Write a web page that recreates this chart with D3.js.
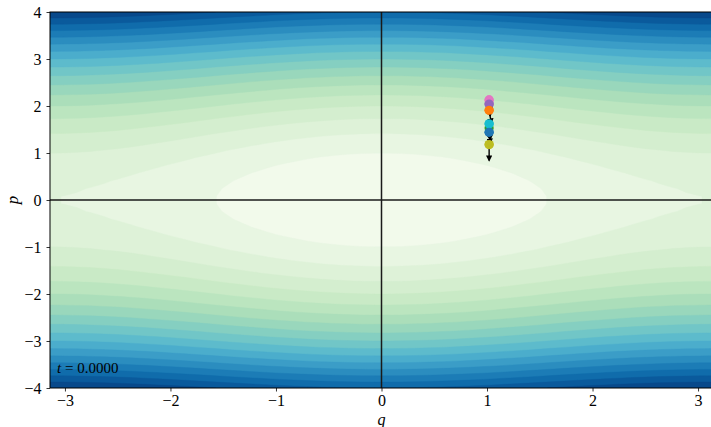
<!DOCTYPE html>
<html><head><meta charset="utf-8">
<script src="https://cdn.jsdelivr.net/npm/d3@7"></script>
<style>
html,body{margin:0;padding:0;background:#fff;}
svg{display:block;}
</style></head>
<body>
<svg id="chart" width="711" height="427"></svg>
<script>
// ---- data ----
const qDomain = [-Math.PI, Math.PI];
const pDomain = [-4, 4];
const xTicks = [-3, -2, -1, 0, 1, 2, 3];
const yTicks = [-4, -3, -2, -1, 0, 1, 2, 3, 4];
const potentialStrength = 0.5;              // H = p^2/2 + k(1 - cos q)
const levelStep = 0.5;
const levelCount = 19;                      // levels 0 .. 9
const pointColors = ["#2ca02c", "#e377c2", "#9467bd", "#ff7f0e", "#1f77b4", "#17becf", "#bcbd22"];
const pointQ =      [1.02, 1.02, 1.02, 1.02, 1.02, 1.02, 1.02];
const pointP =      [1.53, 2.13, 2.04, 1.91, 1.44, 1.62, 1.18];
const arrowDQ =     [0.01, 0.01, 0.01, 0.02, 0.01, 0.01, 0.0];
const arrowDP =     [-0.25, -0.25, -0.25, -0.28, -0.24, -0.25, -0.34];
const timeLabel = "0.0000";

const SERIF = '"Liberation Serif","Times New Roman","DejaVu Serif",serif';

// ---- layout ----
const svg = d3.select("#chart");
const x0 = 50, x1 = 713, y0 = 12, y1 = 388;
const x = d3.scaleLinear().domain(qDomain).range([x0, x1]);
const y = d3.scaleLinear().domain(pDomain).range([y1, y0]);

const defs = svg.append("defs");
defs.append("clipPath").attr("id", "clip")
  .append("rect").attr("x", x0).attr("y", y0).attr("width", x1 - x0).attr("height", y1 - y0);

// ---- contour field ----
const nx = 50, ny = 50;
const H = (q, p) => p * p / 2 + potentialStrength * (1 - Math.cos(q));
const values = new Array(nx * ny);
for (let j = 0; j < ny; j++) {
  const p = pDomain[0] + (pDomain[1] - pDomain[0]) * j / (ny - 1);
  for (let i = 0; i < nx; i++) {
    const q = qDomain[0] + (qDomain[1] - qDomain[0]) * i / (nx - 1);
    values[j * nx + i] = H(q, p);
  }
}
const levels = d3.range(levelCount).map(i => i * levelStep);
const vmin = levels[0], vmax = levels[levels.length - 1];
const bandColor = i => {
  const mid = (levels[i] + levels[i + 1]) / 2;
  return d3.interpolateGnBu((mid - vmin) / (vmax - vmin));
};
const contours = d3.contours().size([nx, ny]).thresholds(levels.slice(0, -1))(values);
const gx = d3.scaleLinear().domain([0, nx - 1]).range([x0, x1]);
const gy = d3.scaleLinear().domain([0, ny - 1]).range([y1, y0]);
const proj = d3.geoTransform({
  point: function(px, py) {
    this.stream.point(gx(Math.max(0, Math.min(nx - 1, px - 0.5))), gy(Math.max(0, Math.min(ny - 1, py - 0.5))));
  }
});
const path = d3.geoPath(proj);
const field = svg.append("g").attr("clip-path", "url(#clip)");
contours.forEach((c, i) => {
  field.append("path").attr("d", path(c)).attr("fill", bandColor(i)).attr("stroke", bandColor(i)).attr("stroke-width", 0.4);
});

// ---- axis lines through origin ----
const cross = svg.append("g").attr("clip-path", "url(#clip)");
cross.append("line").attr("x1", x(0)).attr("x2", x(0)).attr("y1", y0).attr("y2", y1)
  .attr("stroke", "#1a1a1a").attr("stroke-width", 1.5);
cross.append("line").attr("x1", x0).attr("x2", x1).attr("y1", y(0)).attr("y2", y(0))
  .attr("stroke", "#1a1a1a").attr("stroke-width", 1.5);

// ---- points and arrows ----
const marks = svg.append("g").attr("clip-path", "url(#clip)");
defs.append("marker").attr("id", "head").attr("viewBox", "0 0 10 10").attr("refX", 8).attr("refY", 5)
  .attr("markerWidth", 4.5).attr("markerHeight", 4.5).attr("orient", "auto")
  .append("path").attr("d", "M0,0 L10,5 L0,10 Z").attr("fill", "#000");
pointColors.forEach((col, i) => {
  marks.append("circle").attr("cx", x(pointQ[i])).attr("cy", y(pointP[i])).attr("r", 4.6).attr("fill", col);
});
pointColors.forEach((col, i) => {
  marks.append("line")
    .attr("x1", x(pointQ[i])).attr("y1", y(pointP[i]))
    .attr("x2", x(pointQ[i] + arrowDQ[i])).attr("y2", y(pointP[i] + arrowDP[i]))
    .attr("stroke", "#000").attr("stroke-width", 1.4).attr("marker-end", "url(#head)");
});
[1, 2, 3, 5, 4, 6].forEach(i => {
  marks.append("circle").attr("cx", x(pointQ[i])).attr("cy", y(pointP[i])).attr("r", 4.6).attr("fill", pointColors[i]);
});

// ---- frame ----
svg.append("rect").attr("x", x0).attr("y", y0).attr("width", x1 - x0).attr("height", y1 - y0)
  .attr("fill", "none").attr("stroke", "#000").attr("stroke-width", 1);

// ---- axes ----
const fmt = d => (d < 0 ? "\u2212" + Math.abs(d) : String(d));
const xAxis = svg.append("g").attr("transform", `translate(0,${y1})`)
  .call(d3.axisBottom(x).tickValues(xTicks).tickFormat(fmt).tickSize(3.5).tickPadding(3));
const yAxis = svg.append("g").attr("transform", `translate(${x0},0)`)
  .call(d3.axisLeft(y).tickValues(yTicks).tickFormat(fmt).tickSize(3.5).tickPadding(5));
[xAxis, yAxis].forEach(a => {
  a.select(".domain").remove();
  a.selectAll("line").attr("stroke", "#000").attr("stroke-width", 0.8);
  a.selectAll("text").style("font-size", "16px").style("font-family", SERIF).attr("fill", "#000");
});

svg.append("text").attr("x", x(0)).attr("y", 425).attr("text-anchor", "middle")
  .style("font-size", "16px").style("font-family", SERIF).style("font-style", "italic").text("q");
svg.append("text").attr("transform", `translate(18,${y(0)}) rotate(-90)`).attr("text-anchor", "middle")
  .style("font-size", "17px").style("font-family", SERIF).style("font-style", "italic").text("p");

const tl = svg.append("text").attr("x", 57).attr("y", 373).style("font-size", "15px").style("font-family", SERIF);
tl.append("tspan").style("font-style", "italic").text("t");
tl.append("tspan").text(" = " + timeLabel);
</script>
</body></html>
